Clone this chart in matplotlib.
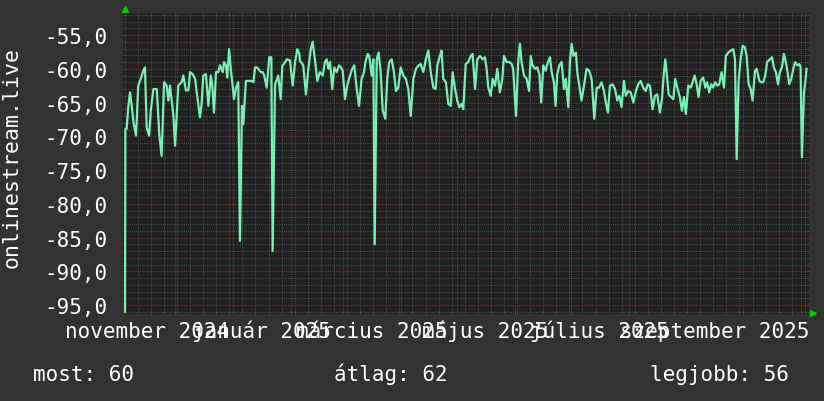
import numpy as np
import matplotlib
matplotlib.use("Agg")
import matplotlib.pyplot as plt
import matplotlib.dates as mdates
import matplotlib.transforms as mtrans
from matplotlib.ticker import MultipleLocator, FuncFormatter

# days since 2024-11-01 and the measured value at that time
origin = np.datetime64("2024-11-01T00:00")
days = [3.2, 3.4, 4.1, 5.0, 5.9, 6.8, 7.7, 9.1, 10.3, 11.6, 13.0, 13.9, 14.8, 16.1, 17.0,
        18.4, 20.2, 21.6, 22.8, 24.1, 25.5, 26.4, 27.3, 28.2, 29.1, 30.0, 31.7, 33.5, 34.4,
        35.8, 37.1, 38.0, 39.4, 40.7, 41.9, 43.3, 44.2, 45.1, 46.5, 47.8, 49.1, 49.9, 50.8,
        51.9, 53.1, 54.0, 55.5, 56.2, 57.2, 57.9, 58.9, 59.8, 60.8, 61.5, 62.6, 63.8, 64.7,
        65.8, 66.5, 67.9, 69.2, 70.1, 71.0, 71.9, 72.8, 73.7, 74.5, 75.8, 76.9, 77.7, 79.0,
        80.4, 81.5, 82.2, 83.5, 85.2, 86.5, 87.4, 88.3, 89.7, 91.5, 92.9, 94.2, 95.4, 96.5,
        96.8, 98.6, 100.0, 101.3, 102.6, 103.6, 104.9, 106.1, 107.5, 109.0, 110.2, 111.1,
        112.0, 112.9, 114.1, 115.2, 116.5, 117.7, 118.8, 119.7, 120.9, 122.1, 123.6, 124.8,
        125.9, 127.2, 128.4, 129.8, 131.1, 132.0, 133.1, 133.9, 135.2, 136.1, 136.8, 137.9,
        138.9, 140.0, 141.1, 142.5, 143.5, 144.6, 145.9, 147.1, 148.2, 149.4, 150.7, 152.1,
        153.5, 154.8, 156.1, 157.5, 158.9, 160.3, 161.4, 162.8, 164.2, 165.5, 166.8, 168.2,
        169.4, 170.3, 171.7, 172.6, 173.5, 174.9, 176.2, 177.5, 178.5, 179.8, 181.0, 182.1,
        183.3, 184.2, 185.5, 186.9, 188.2, 189.2, 190.5, 191.7, 193.1, 194.6, 195.8, 196.7,
        197.6, 198.9, 199.9, 201.2, 202.4, 203.8, 205.1, 206.0, 207.4, 208.8, 210.1, 210.9,
        212.4, 213.6, 214.5, 215.4, 216.7, 218.1, 219.4, 220.3, 221.3, 222.6, 223.8, 224.9,
        225.9, 227.0, 228.3, 229.5, 230.6, 231.5, 232.7, 233.6, 234.5, 235.6, 236.8, 238.1,
        239.1, 240.4, 241.3, 242.2, 243.1, 244.5, 245.2, 246.6, 247.5, 248.8, 250.2, 251.6,
        252.9, 254.3, 255.6, 256.8, 258.2, 259.5, 260.5, 261.6, 262.7, 264.1, 265.4, 266.6,
        267.7, 268.9, 270.2, 271.2, 272.5, 273.8, 275.2, 276.6, 277.8, 279.1, 280.5, 281.8,
        283.0, 284.1, 285.5, 286.8, 288.0, 289.4, 290.5, 291.6, 292.3, 293.0, 294.1, 295.5,
        296.6, 297.6, 298.7, 300.1, 301.2, 302.3, 303.3, 304.6, 305.9, 306.9, 308.0, 309.1,
        310.1, 311.2, 312.6, 313.7, 314.7, 315.8, 316.9, 317.9, 319.0, 320.1, 321.2, 322.4,
        323.7, 324.7, 326.0, 327.3, 328.7, 329.6, 330.5, 331.5, 332.6, 333.7, 334.9, 335.8,
        336.9, 338.0, 339.0, 340.3, 341.2, 342.6, 343.6, 344.7, 345.8, 346.8, 348.3, 349.4,
        350.4, 351.5, 352.6, 353.6, 354.7, 355.8, 356.8, 357.9, 358.6, 359.7, 360.8, 361.8,
        362.9, 364.0, 364.7, 365.4, 366.5, 367.2, 367.9]
values = [-96.0, -68.9, -68.9, -65.5, -63.5, -65.5, -67.9, -69.9, -62.5, -61.5, -60.3, -59.8, -68.7, -69.9, -66.2,
          -63.0, -63.0, -69.9, -72.9, -62.0, -62.5, -64.7, -62.5, -64.7, -67.0, -71.4, -62.5, -62.0, -61.0,
          -63.2, -63.2, -60.5, -60.8, -61.5, -64.2, -67.2, -65.2, -61.0, -60.8, -65.5, -61.0, -62.5, -66.5,
          -60.5, -60.5, -59.5, -60.5, -59.0, -59.5, -61.3, -57.1, -60.0, -62.5, -64.5, -62.8, -62.0, -85.5,
          -65.5, -68.2, -61.8, -61.8, -61.8, -61.8, -62.0, -59.8, -59.8, -60.0, -60.5, -60.5, -61.0, -62.8,
          -58.3, -58.3, -87.0, -62.3, -61.0, -64.5, -59.5, -59.3, -58.6, -58.8, -62.5, -59.0, -57.1, -57.8,
          -58.8, -59.5, -63.8, -60.0, -57.1, -56.0, -58.8, -61.8, -60.5, -61.0, -59.0, -58.6,
          -60.0, -59.0, -63.0, -59.8, -60.5, -59.5, -59.8, -60.3, -64.5, -62.5, -61.0, -60.0,
          -59.5, -63.0, -65.5, -61.5, -60.5, -58.8, -57.8, -58.1, -61.0, -58.6, -86.0, -58.6,
          -57.6, -60.5, -66.2, -67.4, -61.5, -59.0, -58.6, -60.5, -63.3, -62.8, -59.8, -61.0,
          -61.5, -63.0, -67.0, -61.5, -60.0, -59.5, -59.3, -60.5, -58.6, -57.3, -60.5, -62.8,
          -63.0, -59.5, -58.1, -57.3, -61.5, -62.0, -65.2, -65.5, -60.5, -63.0, -64.7, -65.7,
          -65.2, -66.0, -59.3, -59.0, -58.1, -57.8, -63.0, -58.6, -58.1, -58.6, -58.3, -60.0,
          -62.8, -64.0, -61.5, -62.5, -60.0, -63.5, -61.5, -58.1, -59.0, -59.0, -59.3, -60.0,
          -67.0, -59.0, -56.3, -59.0, -61.0, -61.5, -63.3, -58.1, -59.5, -60.0, -59.8, -60.8,
          -65.0, -59.5, -60.3, -59.0, -58.3, -60.5, -62.0, -65.5, -60.8, -59.5, -59.0, -63.0,
          -61.5, -65.7, -58.8, -56.3, -58.1, -57.6, -60.5, -63.0, -64.7, -62.5, -60.0, -60.3,
          -61.5, -67.4, -62.8, -62.8, -62.0, -63.3, -65.0, -66.5, -62.5, -62.3, -63.0, -64.7,
          -64.0, -65.7, -61.8, -64.0, -63.3, -63.5, -65.0, -63.3, -62.3, -61.8, -62.8, -63.3,
          -62.3, -62.5, -66.0, -64.0, -63.8, -66.5, -64.5, -60.5, -58.6, -60.5, -63.8, -64.2,
          -64.5, -61.5, -62.8, -64.2, -66.2, -64.2, -66.7, -62.5, -62.8, -62.0, -61.0, -62.3,
          -64.2, -61.8, -61.3, -62.8, -62.0, -63.5, -62.3, -62.8, -62.0, -62.5, -62.3, -60.5,
          -62.8, -58.1, -57.6, -57.3, -57.1, -58.6, -73.4, -62.0, -58.6, -56.6, -56.8, -58.1,
          -62.3, -63.0, -64.7, -60.3, -60.0, -61.8, -62.0, -62.0, -61.0, -59.0, -58.6, -58.3,
          -59.8, -60.5, -62.3, -60.5, -59.8, -57.8, -59.0, -60.8, -62.3, -61.5, -60.0, -59.0,
          -59.5, -59.3, -59.8, -73.1, -63.5, -62.0, -60.0]

x_first, x_last = 2.4, 369.2          # visible window, days since origin
y_low, y_high = -96.33, -51.74
series_name = "onlinestream.live"
summary = [("most", 60), ("átlag", 62), ("legjobb", 56)]
honap = ["január", "február", "március", "április", "május", "június", "július",
         "augusztus", "szeptember", "október", "november", "december"]
label_months = np.arange(np.datetime64("2024-11"), np.datetime64("2025-11"), 2)

BG = "#323232"
CANVAS = "#212121"
MAJOR = "#7a3434"
MINOR = "#4b4b4b"
LINE = "#78f0b4"
ARROW = "#00d000"

plt.rcParams["font.family"] = ["DejaVu Sans Mono"]
plt.rcParams["font.size"] = 15


def to_time(d):
    return origin + (np.asarray(d) * 86400).astype("timedelta64[s]")


fig = plt.figure(figsize=(8.24, 4.02), dpi=100, facecolor=BG)
ax = fig.add_axes([123.5 / 824, 1 - 315 / 402, 685.5 / 824, 301 / 402])
ax.set_facecolor(CANVAS)

ax.plot(to_time(days), values, color=LINE, linewidth=1.6, zorder=3)

t0, t1 = to_time(x_first), to_time(x_last)
ax.set_xlim(t0, t1)
ax.set_ylim(y_low, y_high)

# grid: months red, weeks grey; 5 units red, 1 unit grey
ax.xaxis.set_major_locator(mdates.MonthLocator())
ax.xaxis.set_minor_locator(mdates.WeekdayLocator(byweekday=mdates.MO))
ax.yaxis.set_major_locator(MultipleLocator(5))
ax.yaxis.set_minor_locator(MultipleLocator(1))
dots = (0, (1, 1))
ax.grid(which="minor", color=MINOR, linestyle=dots, linewidth=0.75, zorder=1)
ax.grid(which="major", color=MAJOR, linestyle=dots, linewidth=0.75, zorder=2)
ax.set_axisbelow(True)

ax.yaxis.set_major_formatter(FuncFormatter(lambda v, p: f"{v:.1f}".replace(".", ",")))
ax.tick_params(axis="x", which="both", labelbottom=False, direction="in",
               top=True, length=2.5, width=0.75)
ax.tick_params(axis="y", which="both", direction="in", right=True, length=2.5,
               width=0.75, pad=11.5, labelcolor="white", labelsize=15)
ax.tick_params(which="major", color=MAJOR)
ax.tick_params(which="minor", color=MINOR)
for s in ax.spines.values():
    s.set_visible(False)

# month labels, centred half a month after every second month start, common baseline
lab_tr = mtrans.blended_transform_factory(ax.transData, ax.transAxes)
for m in label_months:
    mid = (m + np.timedelta64(15, "D")).astype("datetime64[s]")
    year = m.astype(object).year
    month = m.astype(object).month
    ax.text(mid, -23 / 301, f"{honap[month - 1]} {year}", transform=lab_tr,
            ha="center", va="baseline", color="white", fontsize=15, clip_on=False)

# rrdtool style axis arrows
ax.plot([0.002], [1.013], marker="^", markersize=5, color=ARROW,
        transform=ax.transAxes, clip_on=False)
ax.plot([1.006], [0.004], marker=">", markersize=5, color=ARROW,
        transform=ax.transAxes, clip_on=False)

fig.text(12 / 824, 1 - 157 / 402, series_name, rotation=90, ha="center", va="center",
         color="white", fontsize=15.5)

for (name, val), xpix in zip(summary, [33, 334, 650]):
    fig.text(xpix / 824, 1 - 381 / 402, f"{name}: {val}", ha="left", va="baseline",
             color="white", fontsize=15)

fig.savefig("out.png", dpi=100, facecolor=BG)
